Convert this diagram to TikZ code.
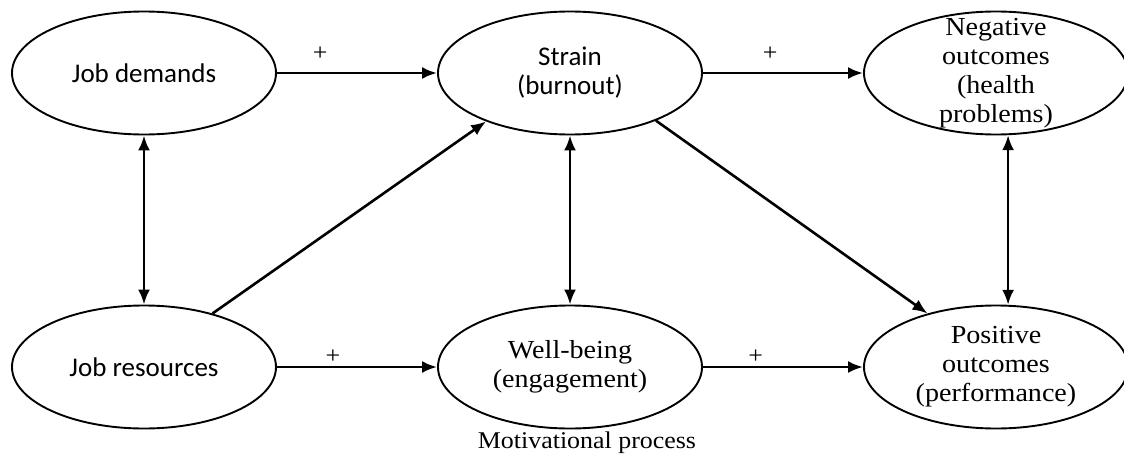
\documentclass[tikz,border=0pt]{standalone}
\usepackage{fontspec}
\setmainfont[FakeStretch=1.08]{Liberation Serif}
\newfontfamily\boxsans{Carlito}
\usetikzlibrary{shapes.geometric,arrows.meta}
\tikzset{
 oval/.style={draw,ellipse,line width=1.9pt,minimum width=264pt,minimum height=123pt,inner sep=0pt},
 sanstxt/.style={align=center,font=\boxsans\fontsize{27}{29}\selectfont},
 seriftxt/.style={align=center,font=\fontsize{26}{29}\selectfont},
 arr/.style={line width=2.6pt,-{Latex[length=15pt,width=12pt]}},
 dbl/.style={line width=2.6pt,{Latex[length=15pt,width=12pt]}-{Latex[length=15pt,width=12pt]}},
 plus/.style={font=\fontsize{24}{24}\selectfont,inner sep=0pt}
}
\begin{document}
\begin{tikzpicture}[x=1pt,y=-1pt]
 \useasboundingbox (0,0) rectangle (1124,463);
 % ellipses
 \node[oval] (jd) at (144,73) {};
 \node[oval] (st) at (570,73) {};
 \node[oval] (neg) at (996,73) {};
 \node[oval] (jr) at (144,367) {};
 \node[oval] (wb) at (570,367) {};
 \node[oval] (pos) at (996,367) {};
 % texts
 \node[sanstxt] (jdtext) at (jd) {Job demands};
 \node[sanstxt] (sttext) at (st) {Strain\\(burnout)};
 \node[seriftxt] (negtext) at (neg) {Negative\\outcomes\\(health\\problems)};
 \node[sanstxt] (jrtext) at (jr) {Job resources};
 \node[seriftxt] (wbtext) at (wb) {Well-being\\(engagement)};
 \node[seriftxt] (postext) at (pos) {Positive\\outcomes\\(performance)};
 \node[seriftxt,font=\fontsize{24}{28}\selectfont] (mot) at (587,443) {Motivational process};
 % arrows
 \draw[arr] (jd) -- node[plus,pos=0.27,yshift=19pt] {+} (st);
 \draw[arr] (st) -- node[plus,pos=0.42,yshift=19pt] {+} (neg);
 \draw[arr] (jr) -- node[plus,pos=0.35,yshift=10pt] {+} (wb);
 \draw[arr] (wb) -- node[plus,pos=0.33,yshift=10pt] {+} (pos);
 \draw[arr] (jr.38) -- (st.210);
 \draw[arr] (st.-29) -- (pos.142);
 \draw[dbl] (jd) -- (jr);
 \draw[dbl] (st) -- (wb);
 \draw[dbl] (neg.-79) -- (pos.79);
\end{tikzpicture}
\end{document}
